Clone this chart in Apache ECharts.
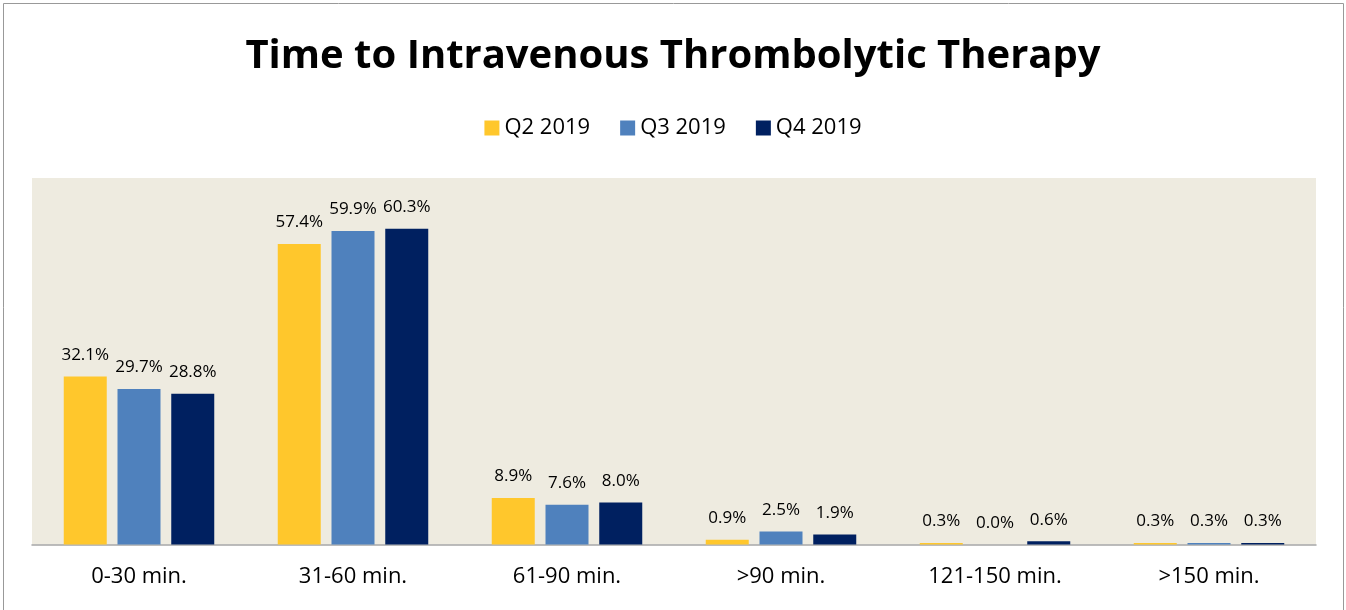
<!DOCTYPE html>
<html>
<head>
<meta charset="utf-8">
<script src="https://cdn.jsdelivr.net/npm/echarts@6/dist/echarts.min.js"></script>
<style>
  html, body { margin: 0; padding: 0; background: #fff; }
  #chart { width: 1346px; height: 610px; }
</style>
</head>
<body>
<div id="chart"></div>
<script>
// categories and series values
const categories = ['0-30 min.', '31-60 min.', '61-90 min.', '>90 min.', '121-150 min.', '>150 min.'];
const q2_2019 = [32.1, 57.4, 8.9, 0.9, 0.3, 0.3];
const q3_2019 = [29.7, 59.9, 7.6, 2.5, 0.0, 0.3];
const q4_2019 = [28.8, 60.3, 8.0, 1.9, 0.6, 0.3];
const seriesNames = ['Q2 2019', 'Q3 2019', 'Q4 2019'];
const colors = ['#FFC72C', '#4F81BD', '#002060'];

const chart = echarts.init(document.getElementById('chart'));
const font = '"Open Sans", "Noto Sans", sans-serif';

function makeSeries(name, values, color) {
    return {
        name: name,
        type: 'bar',
        data: values,
        barWidth: 43,
        barGap: '25%',
        itemStyle: { color: color },
        label: {
            show: true,
            position: 'top',
            distance: 13,
            color: '#000',
            fontFamily: font,
            fontSize: 17,
            formatter: function (p) { return p.value.toFixed(1) + '%'; }
        }
    };
}

const option = {
    animation: false,
    color: colors,
    textStyle: { fontFamily: font },
    title: {
        text: 'Time to Intravenous Thrombolytic Therapy',
        left: 'center',
        top: 32,
        textStyle: { fontSize: 40, fontWeight: 'bold', color: '#000', fontFamily: font }
    },
    legend: {
        top: 112,
        left: 'center',
        itemWidth: 15,
        itemHeight: 15,
        itemGap: 30,
        icon: 'rect',
        textStyle: { fontSize: 22, color: '#000', fontFamily: font },
        data: seriesNames
    },
    graphic: [{
        type: 'rect',
        shape: { x: 3.5, y: 3.5, width: 1340, height: 620 },
        style: { fill: 'none', stroke: '#999', lineWidth: 1 },
        silent: true
    }],
    grid: {
        left: 32,
        right: 30,
        top: 178,
        bottom: 65.5,
        show: true,
        backgroundColor: '#EEEBE0',
        borderWidth: 0
    },
    xAxis: {
        type: 'category',
        data: categories,
        axisTick: { show: false },
        axisLine: { lineStyle: { color: '#A6A6A6', width: 1.5 } },
        axisLabel: { color: '#000', fontSize: 22, fontFamily: font, margin: 21 }
    },
    yAxis: {
        type: 'value',
        min: 0,
        max: 70,
        show: false,
        splitLine: { show: false }
    },
    series: [
        makeSeries(seriesNames[0], q2_2019, colors[0]),
        makeSeries(seriesNames[1], q3_2019, colors[1]),
        makeSeries(seriesNames[2], q4_2019, colors[2])
    ]
};

chart.setOption(option);
</script>
</body>
</html>
